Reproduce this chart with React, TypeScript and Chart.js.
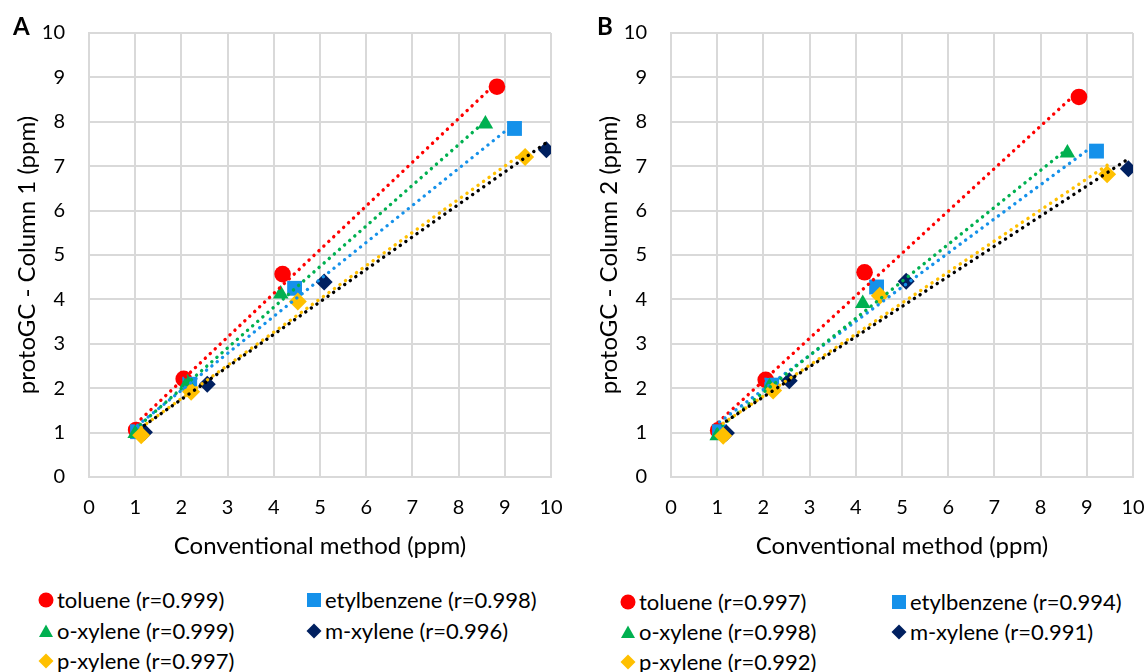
import React, { useEffect, useRef } from "react";
import { Chart, registerables } from "chart.js";

Chart.register(...registerables);

// ---- data ----
const seriesNames = ["toluene", "etylbenzene", "o-xylene", "m-xylene", "p-xylene"];

// Conventional method (ppm) — x values, shared by both columns
const tolueneX = [1.02, 2.05, 4.19, 8.83];
const etylbenzeneX = [1.05, 2.18, 4.45, 9.21];
const oXyleneX = [1.0, 2.13, 4.15, 8.58];
const mXyleneX = [1.2, 2.56, 5.09, 9.9];
const pXyleneX = [1.13, 2.21, 4.52, 9.44];

// protoGC - Column 1 (ppm)
const tolueneCol1 = [1.06, 2.21, 4.57, 8.79];
const etylbenzeneCol1 = [1.02, 2.09, 4.25, 7.85];
const oXyleneCol1 = [0.98, 2.12, 4.12, 7.95];
const mXyleneCol1 = [1.01, 2.09, 4.39, 7.37];
const pXyleneCol1 = [0.94, 1.92, 3.95, 7.21];

// protoGC - Column 2 (ppm)
const tolueneCol2 = [1.05, 2.19, 4.61, 8.56];
const etylbenzeneCol2 = [1.02, 2.07, 4.28, 7.34];
const oXyleneCol2 = [0.93, 2.03, 3.91, 7.3];
const mXyleneCol2 = [0.99, 2.17, 4.41, 6.94];
const pXyleneCol2 = [0.93, 1.95, 4.08, 6.82];

const rColumn1 = ["0.999", "0.998", "0.999", "0.996", "0.997"];
const rColumn2 = ["0.997", "0.994", "0.998", "0.991", "0.992"];

const axisMin = 0;
const axisMax = 10;
const tickStep = 1;

const xTitle = "Conventional method (ppm)";
const yTitle1 = "protoGC - Column 1 (ppm)";
const yTitle2 = "protoGC - Column 2 (ppm)";

// ---- styles ----
const FONT = "Lato, 'Open Sans', sans-serif";
const colors = ["#FF0000", "#1591EA", "#00B050", "#002060", "#FFC000"];
const trendColors = ["#FF0000", "#1591EA", "#00B050", "#000000", "#FFC000"];
const pointStyles = ["circle", "rect", "triangle", "rectRot", "rectRot"];
const pointRadii = [8.3, 10.5, 9, 8.5, 9];
// draw order: later series (p-xylene) on top of markers; trendlines above markers
const markerOrder = [10, 9, 8, 7, 6];
const trendOrder = [5, 4, 3, 1, 2];

function regression(xs: number[], ys: number[]) {
  const n = xs.length;
  const mx = xs.reduce((a, b) => a + b, 0) / n;
  const my = ys.reduce((a, b) => a + b, 0) / n;
  let sxy = 0;
  let sxx = 0;
  for (let i = 0; i < n; i++) {
    sxy += (xs[i] - mx) * (ys[i] - my);
    sxx += (xs[i] - mx) * (xs[i] - mx);
  }
  const b = sxy / sxx;
  const a = my - b * mx;
  const x0 = Math.min(...xs);
  const x1 = Math.max(...xs);
  return [
    { x: x0, y: a + b * x0 },
    { x: x1, y: a + b * x1 },
  ];
}

type PanelProps = {
  xs: number[][];
  ys: number[][];
  yTitle: string;
  width: number;
  height: number;
  padRight: number;
};

function Panel({ xs, ys, yTitle, width, height, padRight }: PanelProps) {
  const ref = useRef<HTMLCanvasElement | null>(null);
  useEffect(() => {
    if (!ref.current) return;
    const markerSets = seriesNames.map((name, i) => ({
      type: "scatter" as const,
      label: name,
      data: xs[i].map((x, j) => ({ x, y: ys[i][j] })),
      pointStyle: pointStyles[i],
      pointRadius: pointRadii[i],
      pointBackgroundColor: colors[i],
      pointBorderColor: colors[i],
      pointBorderWidth: 0,
      showLine: false,
      order: markerOrder[i],
    }));
    const trendSets = seriesNames.map((name, i) => ({
      type: "scatter" as const,
      label: name + " trend",
      data: regression(xs[i], ys[i]),
      showLine: true,
      borderColor: trendColors[i],
      borderWidth: 3.4,
      borderDash: [0.1, 6.7],
      borderCapStyle: "round" as const,
      pointRadius: 0,
      fill: false,
      order: trendOrder[i],
    }));
    const tickFont = { family: FONT, size: 20 };
    const titleFont = { family: FONT, size: 24 };
    const gridCol = "#d9d9d9";
    const chart = new Chart(ref.current, {
      type: "scatter",
      data: { datasets: [...trendSets, ...markerSets] as any },
      options: {
        animation: false,
        responsive: false,
        layout: { padding: { top: 33, right: padRight, left: 0, bottom: 0 } },
        plugins: { legend: { display: false }, tooltip: { enabled: false } },
        scales: {
          x: {
            type: "linear",
            min: axisMin,
            max: axisMax,
            ticks: { stepSize: tickStep, padding: 19, font: tickFont, color: "#000" },
            grid: { color: gridCol, lineWidth: 2, drawTicks: false },
            border: { color: gridCol, width: 2 },
            title: {
              display: true,
              text: xTitle,
              font: titleFont,
              color: "#000",
              padding: { top: 0, bottom: 4 },
            },
            afterFit: (s: any) => {
              s.height = 88;
              s.paddingLeft = 0;
              s.paddingRight = 0;
            },
          },
          y: {
            type: "linear",
            min: axisMin,
            max: axisMax,
            ticks: { stepSize: tickStep, padding: 24, font: tickFont, color: "#000" },
            grid: { color: gridCol, lineWidth: 2, drawTicks: false },
            border: { color: gridCol, width: 2 },
            title: {
              display: true,
              text: yTitle,
              font: titleFont,
              color: "#000",
              padding: { top: 13, bottom: 0 },
            },
            afterFit: (s: any) => {
              s.width = 89;
              s.paddingTop = 0;
              s.paddingBottom = 0;
            },
          },
        },
      } as any,
    });
    return () => chart.destroy();
  }, []);
  return <canvas ref={ref} width={width} height={height} style={{ display: "block", width, height }} />;
}

function Marker({ i }: { i: number }) {
  const c = colors[i];
  const st = pointStyles[i];
  let shape: any;
  if (st === "circle") shape = <circle cx={8} cy={8} r={7.5} fill={c} />;
  else if (st === "rect") shape = <rect x={1} y={1} width={14} height={14} fill={c} />;
  else if (st === "triangle") shape = <polygon points="8,1.5 15,14 1,14" fill={c} />;
  else shape = <polygon points="8,0.5 15.5,8 8,15.5 0.5,8" fill={c} />;
  return (
    <svg width={16} height={16} style={{ display: "block" }}>
      {shape}
    </svg>
  );
}

type LegendProps = {
  rs: string[];
  colX: number[];
  rowY: number[];
};

function Legend({ rs, colX, rowY }: LegendProps) {
  const cells = [
    [0, 0],
    [1, 0],
    [0, 1],
    [1, 1],
    [0, 2],
  ];
  return (
    <>
      {seriesNames.map((name, i) => {
        const [c, r] = cells[i];
        return (
          <div
            key={name}
            style={{
              position: "absolute",
              left: colX[c] - 8,
              top: rowY[r] - 13,
              height: 26,
              display: "flex",
              alignItems: "center",
              whiteSpace: "nowrap",
              fontFamily: FONT,
              fontSize: 22,
              lineHeight: "26px",
              color: "#000",
            }}
          >
            <Marker i={i} />
            <span style={{ marginLeft: 3 }}>{`${name} (r=${rs[i]})`}</span>
          </div>
        );
      })}
    </>
  );
}

export default function App() {
  const xs = [tolueneX, etylbenzeneX, oXyleneX, mXyleneX, pXyleneX];
  const ys1 = [tolueneCol1, etylbenzeneCol1, oXyleneCol1, mXyleneCol1, pXyleneCol1];
  const ys2 = [tolueneCol2, etylbenzeneCol2, oXyleneCol2, mXyleneCol2, pXyleneCol2];
  const labelStyle: React.CSSProperties = {
    position: "absolute",
    fontFamily: FONT,
    fontWeight: 700,
    fontSize: 24,
    lineHeight: "24px",
    color: "#000",
  };
  return (
    <div
      style={{
        position: "absolute",
        left: 0,
        top: 0,
        width: 1145,
        height: 672,
        background: "#fff",
        overflow: "hidden",
      }}
    >
      <div style={{ position: "absolute", left: 0, top: 0 }}>
        <Panel xs={xs} ys={ys1} yTitle={yTitle1} width={572} height={565} padRight={21} />
      </div>
      <div style={{ position: "absolute", left: 582, top: 0 }}>
        <Panel xs={xs} ys={ys2} yTitle={yTitle2} width={563} height={565} padRight={12} />
      </div>
      <div style={{ ...labelStyle, left: 13, top: 14 }}>A</div>
      <div style={{ ...labelStyle, left: 597, top: 14 }}>B</div>
      <Legend rs={rColumn1} colX={[46, 314]} rowY={[600, 631, 661]} />
      <Legend rs={rColumn2} colX={[628, 899]} rowY={[602, 632, 662]} />
    </div>
  );
}
